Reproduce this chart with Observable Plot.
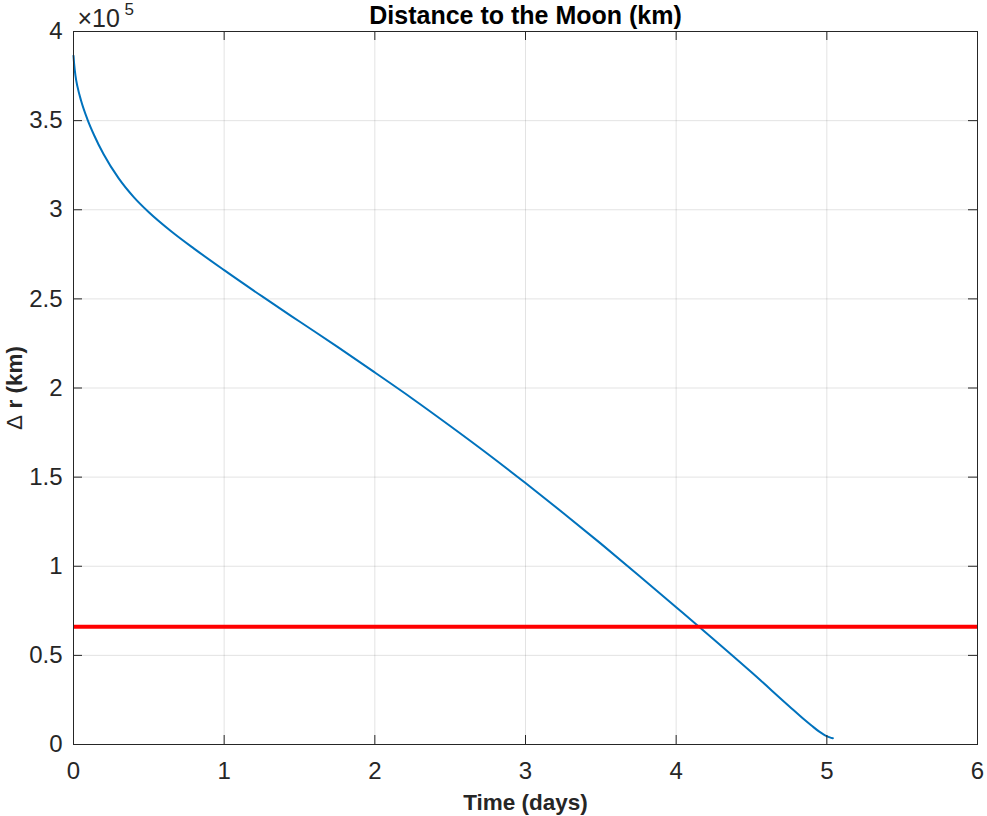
<!DOCTYPE html>
<html>
<head>
<meta charset="utf-8">
<script src="https://cdn.jsdelivr.net/npm/d3@7"></script>
<script src="https://cdn.jsdelivr.net/npm/@observablehq/plot@0.6"></script>
<style>
  html, body { margin: 0; padding: 0; background: #fff; }
  #chart { width: 987px; height: 816px; }
</style>
</head>
<body>
<div id="chart"></div>
<script>
// Data (time in days, distance in km)
const days   = [0, 0.004, 0.013, 0.026, 0.05, 0.093, 0.137, 0.2, 0.3, 0.4, 0.5, 0.65, 0.8, 1.0, 1.25, 1.5, 1.75, 2.0, 2.25, 2.5, 2.75, 3.0, 3.25, 3.5, 3.75, 4.0, 4.25, 4.5, 4.75, 4.85, 4.9, 4.95, 4.98, 5.0, 5.02, 5.04];
const distKm = [386400, 382000, 375200, 369200, 361300, 350600, 341800, 331100, 317600, 307100, 298600, 287800, 278200, 266100, 251500, 237300, 223200, 208700, 194000, 178700, 163000, 146700, 129900, 112700, 95000, 77000, 58900, 40500, 21500, 14000, 10500, 7200, 5600, 4700, 4000, 3500];
const threshold = [66100];
const xTicks = [0, 1, 2, 3, 4, 5, 6];
const yTicks = [0, 50000, 100000, 150000, 200000, 250000, 300000, 350000, 400000];
const titleText = ["Distance to the Moon (km)"];
const xLabel = ["Time (days)"];
const yLabel = ["\u0394 r (km)"];
const exponentBase = ["\u00d710"];
const exponent = ["5"];

const data = days.map((d, i) => ({t: d, r: distKm[i]}));

const W = 987, H = 816;
const mL = 73, mR = 10, mT = 31, mB = 72;
const plotW = W - mL - mR, plotH = H - mT - mB;
const tickLen = 9;
const axisColor = "#262626";
const font = "Helvetica, Arial, 'Liberation Sans', sans-serif";

const chart = Plot.plot({
  width: W,
  height: H,
  marginLeft: mL,
  marginRight: mR,
  marginTop: mT,
  marginBottom: mB,
  style: {fontFamily: font, background: "#fff", overflow: "visible"},
  x: {domain: [0, 6], ticks: xTicks},
  y: {domain: [0, 400000], ticks: yTicks},
  marks: [
    Plot.gridX(xTicks, {stroke: axisColor, strokeOpacity: 0.13, strokeWidth: 1}),
    Plot.gridY(yTicks, {stroke: axisColor, strokeOpacity: 0.13, strokeWidth: 1}),
    Plot.line(data, {x: "t", y: "r", stroke: "#0072BD", strokeWidth: 2, curve: "monotone-x"}),
    Plot.ruleY(threshold, {stroke: "#FF0000", strokeWidth: 4}),
    // inward tick marks on all four sides
    Plot.tickX(xTicks, {x: d => d, stroke: axisColor, insetTop: plotH - tickLen}),
    Plot.tickX(xTicks, {x: d => d, stroke: axisColor, insetBottom: plotH - tickLen}),
    Plot.tickY(yTicks, {y: d => d, stroke: axisColor, insetRight: plotW - tickLen}),
    Plot.tickY(yTicks, {y: d => d, stroke: axisColor, insetLeft: plotW - tickLen}),
    Plot.frame({stroke: axisColor, strokeWidth: 1}),
    Plot.axisX(xTicks, {tickSize: 0, tickPadding: 17, fontSize: 24, fill: axisColor, label: null,
      tickFormat: d => String(d)}),
    Plot.axisY(yTicks, {tickSize: 0, tickPadding: 11, fontSize: 24, fill: axisColor, label: null,
      tickFormat: d => String(d / 100000)}),
    Plot.text(titleText, {frameAnchor: "top", text: d => d, dy: -16, lineAnchor: "middle",
      fontSize: 25, fontWeight: "bold", fill: "#000"}),
    Plot.text(xLabel, {frameAnchor: "bottom", text: d => d, dy: 58, lineAnchor: "middle",
      fontSize: 22.5, fontWeight: "bold", fill: axisColor}),
    Plot.text(yLabel, {frameAnchor: "left", text: d => d, dx: -59, rotate: -90, textAnchor: "middle",
      lineAnchor: "middle", fontSize: 22.5, fontWeight: "bold", fill: axisColor, className: "ylabel"}),
    Plot.text(exponentBase, {frameAnchor: "top-left", text: d => d, dx: 4, dy: -13, textAnchor: "start",
      lineAnchor: "middle", fontSize: 25, fill: axisColor}),
    Plot.text(exponent, {frameAnchor: "top-left", text: d => d, dx: 51, dy: -22, textAnchor: "start",
      lineAnchor: "middle", fontSize: 17, fill: axisColor})
  ]
});
// Render the Δ of the y label in regular weight (as in the reference)
const yl = chart.querySelector(".ylabel text");
if (yl) {
  const s = yl.textContent;
  yl.textContent = "";
  const NS = "http://www.w3.org/2000/svg";
  const t1 = document.createElementNS(NS, "tspan");
  t1.setAttribute("font-weight", "normal");
  t1.textContent = s.charAt(0);
  const t2 = document.createElementNS(NS, "tspan");
  t2.textContent = s.slice(1);
  yl.appendChild(t1);
  yl.appendChild(t2);
}
document.getElementById("chart").appendChild(chart);
</script>
</body>
</html>
